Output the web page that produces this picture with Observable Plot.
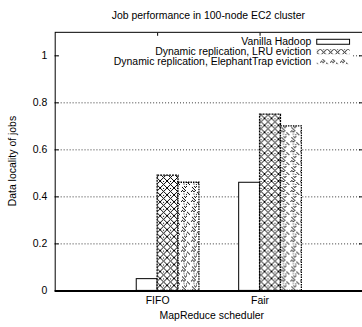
<!DOCTYPE html>
<html><head><meta charset="utf-8">
<script src="https://cdn.jsdelivr.net/npm/d3@7"></script>
<script src="https://cdn.jsdelivr.net/npm/@observablehq/plot@0.6"></script>
<style>html,body{margin:0;padding:0;background:#fff;overflow:hidden}</style>
</head><body><div id="chart"></div>
<script>
const categories = ["FIFO", "Fair"];
const series = ["Vanilla Hadoop", "Dynamic replication, LRU eviction", "Dynamic replication, ElephantTrap eviction"];
const vanilla = [0.05, 0.46];
const lru = [0.49, 0.75];
const elephant = [0.46, 0.70];
const yTicks = [0, 0.2, 0.4, 0.6, 0.8, 1];
const yTickLabels = ["0", "0.2", "0.4", "0.6", "0.8", "1"];
const title = "Job performance in 100-node EC2 cluster";
const xLabel = "MapReduce scheduler";
const yLabel = "Data locality of jobs";

const values = [vanilla, lru, elephant];
const barW = 0.204;
const rows = [];
series.forEach((s, si) => categories.forEach((c, ci) => rows.push({series: s, si, cat: c, ci, value: values[si][ci]})));
const fills = ["white", "url(#pLRU)", "url(#pET)"];
const dashes = [null, "2,1", "1.5,1"];
const FONT = "'Liberation Sans', Arial, Helvetica, sans-serif";
const FS = 10.5;

const barMarks = series.map((s, si) => Plot.rectY(rows.filter(d => d.si === si), {
  x1: d => d.ci + (d.si - 1) * barW,
  x2: d => d.ci + d.si * barW,
  y1: 0, y2: "value",
  fill: fills[si], stroke: "black", strokeWidth: si ? 1.3 : 1,
  strokeDasharray: dashes[si]
}));

const svg = Plot.plot({
  width: 364, height: 327,
  marginLeft: 55, marginRight: 0, marginTop: 32, marginBottom: 35,
  style: {fontFamily: FONT, fontSize: FS + "px", background: "white", color: "black"},
  x: {type: "linear", domain: [-1, 2], axis: null},
  y: {domain: [0, 1.1], axis: null},
  marks: [
    Plot.gridY(yTicks.slice(1), {stroke: "black", strokeOpacity: 1, strokeDasharray: "1,2", strokeWidth: 0.8}),
    ...barMarks,
    Plot.axisY(yTicks, {anchor: "left", label: null, tickSize: 0, tickPadding: 8, tickFormat: d => yTickLabels[yTicks.indexOf(d)], fontSize: FS}),
    Plot.axisY(yTicks, {anchor: "left", label: null, tickSize: -4, tickFormat: () => ""}),
    Plot.axisY(yTicks, {anchor: "right", label: null, tickSize: -4, tickFormat: () => ""}),
    Plot.axisX([0, 1], {anchor: "bottom", label: null, tickSize: 0, tickPadding: 6, tickFormat: d => categories[d], fontSize: FS}),
    Plot.axisX([0, 1], {anchor: "top", label: null, tickSize: -4, tickFormat: () => ""}),
    Plot.frame({stroke: "black"}),
    Plot.ruleY([0], {stroke: "black", strokeWidth: 2})
  ]
});

const s = d3.select(svg);
const defs = s.insert("defs", ":first-child");
const p1 = defs.append("pattern").attr("id", "pLRU").attr("patternUnits", "userSpaceOnUse").attr("width", 7).attr("height", 7);
p1.append("rect").attr("width", 7).attr("height", 7).attr("fill", "white");
p1.append("path").attr("d", "M0,0L7,7M7,0L0,7").attr("stroke", "black").attr("stroke-width", 1.1).attr("stroke-dasharray", "1.5,0.6").attr("fill", "none").attr("shape-rendering", "crispEdges");
p1.append("rect").attr("x", 3).attr("y", 0).attr("width", 1).attr("height", 1).attr("fill", "black");
const p2 = defs.append("pattern").attr("id", "pET").attr("patternUnits", "userSpaceOnUse").attr("width", 10).attr("height", 10);
p2.append("rect").attr("width", 10).attr("height", 10).attr("fill", "white");
p2.append("path").attr("d", "M5,0L10,5L5,10L0,5Z").attr("stroke", "black").attr("stroke-width", 1).attr("stroke-dasharray", "1,1").attr("fill", "none").attr("shape-rendering", "crispEdges");
p2.append("path").attr("d", "M5,2.3L7.7,5L5,7.7L2.3,5Z").attr("stroke", "black").attr("stroke-width", 0.9).attr("stroke-dasharray", "1,1").attr("fill", "none").attr("shape-rendering", "crispEdges");
p2.append("rect").attr("x", 4.5).attr("y", 4.5).attr("width", 1).attr("height", 1).attr("fill", "black");

const txt = (x, y, t, anchor, extra) => {
  const e = s.append("text").attr("x", x).attr("y", y).attr("text-anchor", anchor)
    .attr("font-family", FONT).attr("font-size", FS).attr("fill", "black").text(t);
  if (extra) extra(e);
  return e;
};
txt(209.5, 19, title, "middle");
txt(213, 321, xLabel, "middle");
txt(16, 162, yLabel, "middle", e => e.attr("transform", "rotate(-90,16,162)"));

// legend (opaque key)
const lg = s.append("g");
lg.append("rect").attr("x", 60).attr("y", 36).attr("width", 294).attr("height", 31).attr("fill", "white");
series.forEach((name, i) => {
  const by = 45 + i * 10;
  lg.append("text").attr("x", 313).attr("y", by).attr("text-anchor", "end")
    .attr("font-family", FONT).attr("font-size", FS).attr("fill", "black").text(name);
  lg.append("rect").attr("x", 318.5).attr("y", by - 5.5).attr("width", 33).attr("height", 5)
    .attr("fill", fills[i]).attr("stroke", i ? "none" : "black").attr("stroke-width", 1);
});

document.getElementById("chart").appendChild(svg);
</script>
</body></html>
